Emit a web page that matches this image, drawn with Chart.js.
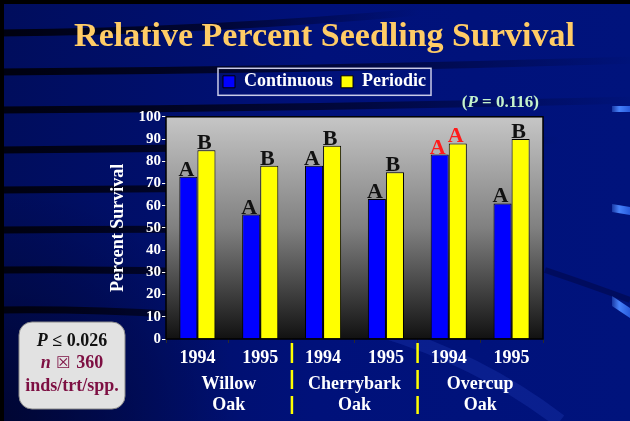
<!DOCTYPE html>
<html><head><meta charset="utf-8">
<script src="https://cdn.jsdelivr.net/npm/chart.js@4"></script>
<style>html,body{margin:0;padding:0;background:#000;overflow:hidden;}</style>
</head><body>
<canvas id="c" width="630" height="421"></canvas>
<script>
// ---- data ----
const categories = ['1994','1995','1994','1995','1994','1995'];
const species = [['Willow','Oak'],['Cherrybark','Oak'],['Overcup','Oak']];
const continuous = [73,56,78,63,83,61];
const periodic = [85,78,87,75,88,90];
const continuousLetters = ['A','A','A','A','A','A'];
const periodicLetters = ['B','B','B','B','A','B'];
const continuousLetterRed = [false,false,false,false,true,false];
const periodicLetterRed = [false,false,false,false,true,false];
const yMin = 0, yMax = 100, yStep = 10;
const titleText = 'Relative Percent Seedling Survival';
const yTitle = 'Percent Survival';
const seriesNames = ['Continuous','Periodic'];
const interactionNote = ['(', 'P', ' = 0.116)'];
const noteLine1 = ['P', ' ≤ 0.026'];
const noteLine2 = ['n', ' ☒ ', '360'];
const noteLine3 = 'inds/trt/spp.';

const SERIF = '"Liberation Serif", "Times New Roman", serif';

const legendSpacer = {
  id: 'legendSpacer',
  beforeInit(chart) {
    const lg = chart.legend;
    if (!lg) return;
    const orig = lg.fit;
    lg.fit = function () { orig.call(this); this.height += 16; };
  }
};

const slide = {
  id: 'slide',
  beforeDraw(chart) {
    const {ctx, width, height, chartArea: ca} = chart;
    ctx.save();
    let g = ctx.createLinearGradient(0, 0, width, 0);
    g.addColorStop(0, '#000d5c');
    g.addColorStop(0.5, '#00117a');
    g.addColorStop(1, '#00137c');
    ctx.fillStyle = g;
    ctx.fillRect(0, 0, width, height);
    g = ctx.createRadialGradient(0, height, 10, 0, height, 240);
    g.addColorStop(0, 'rgba(0,0,20,0.55)');
    g.addColorStop(1, 'rgba(0,0,20,0)');
    ctx.fillStyle = g;
    ctx.fillRect(0, 0, width, height);
    const bands = [[33, 12, 420], [72, 60, 640], [110, 100, 640], [150, 140, 560], [190, 186, 520], [230, 232, 470], [270, 282, 420], [310, 330, 330]];
    bands.forEach(([y0, y1, len]) => {
      const lg = ctx.createLinearGradient(0, 0, len, 0);
      lg.addColorStop(0, 'rgba(0,0,10,0.95)');
      lg.addColorStop(0.55, 'rgba(0,0,20,0.6)');
      lg.addColorStop(1, 'rgba(0,0,30,0)');
      ctx.strokeStyle = lg;
      ctx.lineWidth = 7;
      ctx.beginPath();
      ctx.moveTo(0, y0);
      ctx.quadraticCurveTo(len * 0.5, y0 - 2, len, y1);
      ctx.stroke();
    });
    ctx.strokeStyle = 'rgba(40,70,200,0.25)';
    ctx.lineWidth = 14;
    ctx.beginPath();
    ctx.moveTo(380, 330); ctx.quadraticCurveTo(480, 360, 560, 421); ctx.stroke();
    ctx.strokeStyle = 'rgba(0,0,40,0.35)';
    ctx.lineWidth = 6;
    ctx.beginPath();
    ctx.moveTo(545, 270); ctx.quadraticCurveTo(590, 285, 630, 300); ctx.stroke();
    [[612, 106, 6, 0], [612, 204, 8, 3], [612, 296, 10, 12]].forEach(([x, y, h, sl]) => {
      const sg = ctx.createLinearGradient(x, 0, 630, 0);
      sg.addColorStop(0, 'rgba(80,140,255,0.3)');
      sg.addColorStop(0.4, 'rgba(70,130,250,1)');
      sg.addColorStop(1, 'rgba(40,90,220,1)');
      ctx.fillStyle = sg;
      ctx.beginPath();
      ctx.moveTo(x, y); ctx.lineTo(630, y + sl); ctx.lineTo(630, y + sl + h); ctx.lineTo(x, y + h);
      ctx.closePath(); ctx.fill();
    });
    ctx.fillStyle = '#000';
    ctx.fillRect(0, 0, width, 4);
    ctx.fillRect(0, 0, 4, height);
    g = ctx.createLinearGradient(0, ca.top, 0, ca.bottom);
    g.addColorStop(0, '#c6c6c6');
    g.addColorStop(0.5, '#808080');
    g.addColorStop(1, '#111111');
    ctx.fillStyle = g;
    ctx.fillRect(ca.left, ca.top, ca.right - ca.left, ca.bottom - ca.top);
    ctx.restore();
  },
  afterDatasetsDraw(chart) {
    const {ctx, chartArea: ca} = chart;
    ctx.save();
    ctx.strokeStyle = '#000';
    ctx.lineWidth = 1.5;
    ctx.strokeRect(ca.left, ca.top, ca.right - ca.left, ca.bottom - ca.top);
    ctx.font = 'bold 22px ' + SERIF;
    ctx.textAlign = 'center';
    ctx.textBaseline = 'alphabetic';
    const sets = [[continuousLetters, continuousLetterRed], [periodicLetters, periodicLetterRed]];
    sets.forEach(([letters, red], di) => {
      chart.getDatasetMeta(di).data.forEach((bar, i) => {
        ctx.fillStyle = red[i] ? '#ff1a1a' : '#111111';
        ctx.fillText(letters[i], bar.x - 2, bar.y - 1);
      });
    });
    ctx.restore();
  },
  afterDraw(chart) {
    const {ctx, chartArea: ca, scales} = chart;
    const xs = scales.x;
    ctx.save();
    const hb = chart.legend.legendHitBoxes;
    if (hb && hb.length) {
      const l = Math.min(...hb.map(b => b.left)) - 5;
      const r = Math.max(...hb.map(b => b.left + b.width)) + 5;
      const cy = hb[0].top + hb[0].height / 2;
      ctx.strokeStyle = '#c8cbe8';
      ctx.lineWidth = 1.5;
      ctx.strokeRect(l, cy - 13.5, r - l, 27);
    }
    ctx.fillStyle = '#c4f2cc';
    ctx.textBaseline = 'middle';
    ctx.textAlign = 'left';
    const fN = 'bold 17px ' + SERIF, fI = 'italic bold 17px ' + SERIF;
    ctx.font = fN; const w0 = ctx.measureText(interactionNote[0]).width;
    ctx.font = fI; const w1 = ctx.measureText(interactionNote[1]).width;
    ctx.font = fN; const w2 = ctx.measureText(interactionNote[2]).width;
    let x = ca.right - 4 - (w0 + w1 + w2);
    const py = 102.5;
    ctx.font = fN; ctx.fillText(interactionNote[0], x, py); x += w0;
    ctx.font = fI; ctx.fillText(interactionNote[1], x, py); x += w1;
    ctx.font = fN; ctx.fillText(interactionNote[2], x, py);
    const bound = (i) => (xs.getPixelForTick(i) + xs.getPixelForTick(i + 1)) / 2;
    ctx.fillStyle = '#ffff00';
    [1, 3].forEach(i => {
      const bx = bound(i);
      [[343, 363], [370, 389], [396, 414]].forEach(([a, b]) => ctx.fillRect(bx - 1, a, 2.5, b - a));
    });
    ctx.fillStyle = '#ffffff';
    ctx.font = 'bold 18px ' + SERIF;
    ctx.textAlign = 'center';
    species.forEach((lines, k) => {
      const cx = bound(k * 2);
      ctx.fillText(lines[0], cx, 384);
      ctx.fillText(lines[1], cx, 405.5);
    });
    const bx0 = 19, by0 = 322, bw = 106, bh = 87;
    ctx.beginPath();
    ctx.roundRect(bx0, by0, bw, bh, 13);
    ctx.fillStyle = '#e2e2e2';
    ctx.fill();
    ctx.strokeStyle = '#8a8a8a';
    ctx.lineWidth = 1;
    ctx.stroke();
    const ncx = bx0 + bw / 2;
    const drawParts = (parts, fonts, colors, y) => {
      const ws = parts.map((p, i) => { ctx.font = fonts[i]; return ctx.measureText(p).width; });
      let xx = ncx - ws.reduce((a, b) => a + b, 0) / 2;
      ctx.textAlign = 'left';
      parts.forEach((p, i) => { ctx.font = fonts[i]; ctx.fillStyle = colors[i]; ctx.fillText(p, xx, y); xx += ws[i]; });
    };
    const b18 = 'bold 18px ' + SERIF, bi18 = 'italic bold 18px ' + SERIF;
    drawParts(noteLine1, [bi18, b18], ['#111', '#111'], 341.5);
    drawParts(noteLine2, [bi18, 'bold 16px "DejaVu Sans", sans-serif', b18], ['#7d0f42', '#7d0f42', '#7d0f42'], 363.5);
    drawParts([noteLine3], [b18], ['#7d0f42'], 386.5);
    ctx.restore();
  }
};

new Chart(document.getElementById('c'), {
  type: 'bar',
  data: {
    labels: categories,
    datasets: [
      { label: seriesNames[0], data: continuous, backgroundColor: '#0000ff', borderColor: '#000', borderWidth: 1, yAxisID: 'y' },
      { label: seriesNames[1], data: periodic, backgroundColor: '#ffff00', borderColor: '#000', borderWidth: 1, yAxisID: 'y' }
    ]
  },
  options: {
    responsive: false,
    animation: false,
    devicePixelRatio: 1,
    layout: { padding: { left: 23, right: 4, top: 4, bottom: 0 } },
    datasets: { bar: { categoryPercentage: 0.575, barPercentage: 1.0 } },
    plugins: {
      title: { display: true, text: titleText, color: '#ffcc66',
        font: { family: SERIF, size: 34, weight: 'bold' }, padding: { top: 13, bottom: 7 } },
      legend: { display: true, position: 'top',
        labels: { color: '#ffffff', font: { family: SERIF, size: 18, weight: 'bold' }, boxWidth: 12, boxHeight: 12, padding: 8 } },
      tooltip: { enabled: false }
    },
    scales: {
      x: {
        grid: { display: true, drawOnChartArea: false, offset: true, color: '#2a2a2a', tickLength: 4 },
        border: { display: false },
        ticks: { color: '#ffffff', font: { family: SERIF, size: 18, weight: 'bold' }, padding: 5, maxRotation: 0, autoSkip: false },
        afterFit(a) { a.height = 82; }
      },
      y: {
        min: yMin, max: yMax,
        ticks: { stepSize: yStep, color: '#ffffff', font: { family: SERIF, size: 15, weight: 'bold' }, padding: 1 },
        grid: { drawOnChartArea: false, color: '#ffffff', tickLength: 4 },
        border: { display: false },
        title: { display: true, text: yTitle, color: '#ffffff', font: { family: SERIF, size: 18, weight: 'bold' }, padding: { top: 85, bottom: 0 } },
        afterFit(a) { a.width = 143; }
      },
      yR: {
        position: 'right', display: true,
        ticks: { display: false }, grid: { display: false }, border: { display: false },
        afterFit(a) { a.width = 83; }
      }
    }
  },
  plugins: [legendSpacer, slide]
});
</script>
</body></html>
